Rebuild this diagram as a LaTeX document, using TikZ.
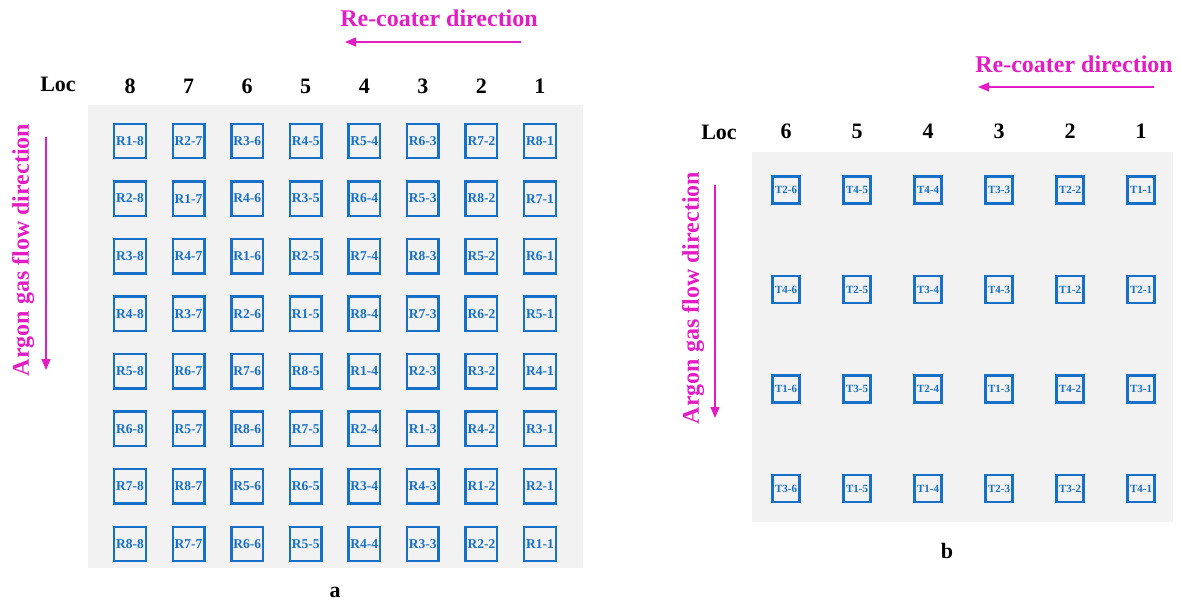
\documentclass[tikz,border=0pt]{standalone}
\usepackage{fontspec}
\setmainfont{Liberation Serif}
\usetikzlibrary{arrows.meta,positioning}

\begin{document}
\begin{tikzpicture}[x=1pt,y=-1pt]
    % Colors and styles
    \definecolor{mymagenta}{RGB}{228,28,196}
    \definecolor{myblue}{RGB}{22,112,200}
    \definecolor{mygray}{RGB}{242,242,242}
    \tikzstyle{rbox}=[draw=myblue, line width=2.4pt, inner sep=0pt, text=myblue,
        minimum width=31.5pt, minimum height=34.5pt, font=\fontsize{13.5}{13.5}\selectfont\bfseries]
    \tikzstyle{tbox}=[draw=myblue, line width=2.2pt, inner sep=0pt, text=myblue,
        minimum width=27pt, minimum height=27pt, font=\fontsize{11}{11}\selectfont\bfseries]
    \tikzstyle{loclabel}=[inner sep=0pt, font=\fontsize{22}{22}\selectfont\bfseries]
    \tikzstyle{dirlabel}=[inner sep=0pt, text=mymagenta, font=\fontsize{24}{24}\selectfont\bfseries]
    \tikzstyle{dirarrow}=[draw=mymagenta, line width=1.3pt, -{Triangle[length=11pt,width=9pt]}]

    \useasboundingbox (0,0) rectangle (1180,607);

    % Build plate a: 8 x 8 samples
    \fill[mygray] (88,105) rectangle (583,568);
    \node[loclabel] (loca) at (58,84) {Loc};
    \foreach \c in {0,...,7}
    {
        \pgfmathtruncatemacro{\loc}{8-\c}
        \node[loclabel] (loca\loc) at ({130+58.57*\c},86) {\loc};
    }
    \foreach \row [count=\r from 0] in {{1,2,3,4,5,6,7,8},{2,1,4,3,6,5,8,7},
        {3,4,1,2,7,8,5,6},{4,3,2,1,8,7,6,5},{5,6,7,8,1,2,3,4},
        {6,5,8,7,2,1,4,3},{7,8,5,6,3,4,1,2},{8,7,6,5,4,3,2,1}}
    {
        \foreach \s [count=\c from 0] in \row
        {
            \pgfmathtruncatemacro{\loc}{8-\c}
            \node[rbox] (r\s\loc) at ({130+58.57*\c},{141+57.57*\r}) {R\s-\loc};
        }
    }
    \node[loclabel] (capa) at (335,592) {a};

    % Directions for plate a
    \node[dirlabel] (recoatera) at (439,18) {Re-coater direction};
    \coordinate (recoatera1) at (521,42);
    \coordinate (recoatera2) at (345,42);
    \draw[dirarrow] (recoatera1) -- (recoatera2);
    \node[dirlabel, rotate=90] (gasa) at (23,250) {Argon gas flow direction};
    \coordinate (gasa1) at (46,137);
    \coordinate (gasa2) at (46,370);
    \draw[dirarrow] (gasa1) -- (gasa2);

    % Build plate b: 4 x 6 samples
    \fill[mygray] (752,152) rectangle (1173,522);
    \node[loclabel] (locb) at (719,132) {Loc};
    \foreach \c in {0,...,5}
    {
        \pgfmathtruncatemacro{\loc}{6-\c}
        \node[loclabel] (locb\loc) at ({786+71*\c},131) {\loc};
    }
    \foreach \row [count=\r from 0] in {{2,4,4,3,2,1},{4,2,3,4,1,2},
        {1,3,2,1,4,3},{3,1,1,2,3,4}}
    {
        \foreach \s [count=\c from 0] in \row
        {
            \pgfmathtruncatemacro{\loc}{6-\c}
            \node[tbox] (t\s\loc) at ({786+71*\c},{190+99.5*\r}) {T\s-\loc};
        }
    }
    \node[loclabel] (capb) at (947,551) {b};

    % Directions for plate b
    \node[dirlabel] (recoaterb) at (1074,64) {Re-coater direction};
    \coordinate (recoaterb1) at (1154,87);
    \coordinate (recoaterb2) at (978,87);
    \draw[dirarrow] (recoaterb1) -- (recoaterb2);
    \node[dirlabel, rotate=90] (gasb) at (693,298) {Argon gas flow direction};
    \coordinate (gasb1) at (715,185);
    \coordinate (gasb2) at (715,418);
    \draw[dirarrow] (gasb1) -- (gasb2);

\end{tikzpicture}
\end{document}
